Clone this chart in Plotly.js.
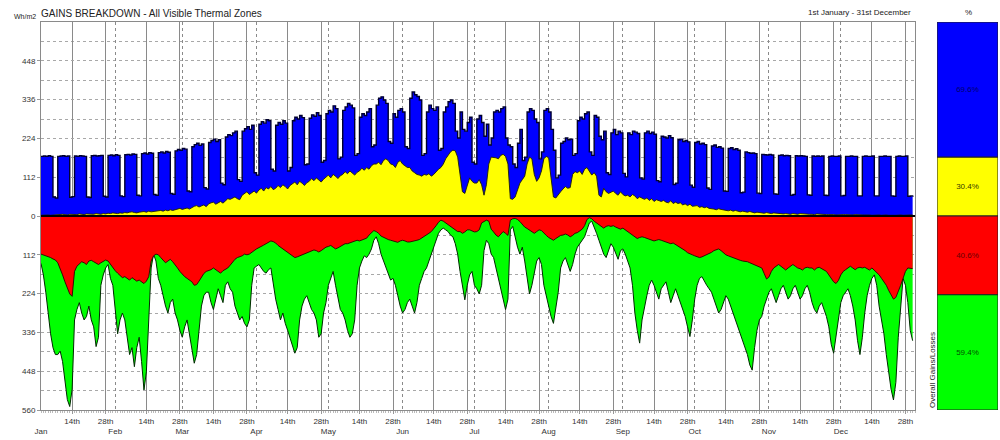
<!DOCTYPE html>
<html>
<head>
<meta charset="utf-8">
<script src="https://cdn.plot.ly/plotly-3.0.1.min.js"></script>
<style>html,body{margin:0;padding:0;background:#fff;}#chart{width:1000px;height:440px;}</style>
</head>
<body>
<div id="chart"></div>
<script>
// ---- DATA (daily values, Wh/m2) ----
const START_DATE = [2001, 0, 1];
const monthNames = ['Jan','Feb','Mar','Apr','May','Jun','Jul','Aug','Sep','Oct','Nov','Dec'];
const midTickDays = [14, 28];
const midTickText = ['14th', '28th'];

const totalGains = [
172,173,172,174,172,55,52, 172,173,174,172,173,54,56, 173,172,174,173,172,55,53, 174,175,173,174,175,57,55,
175,176,174,177,175,58,56, 177,178,176,179,178,60,58, 180,182,179,183,181,62,60, 183,185,182,186,184,65,63,
188,192,190,195,193,72,70, 200,206,210,204,208,82,78, 212,218,222,215,220,95,90, 228,235,232,240,245,105,100,
245,252,258,250,262,125,118, 265,272,268,278,275,135,130, 262,270,265,275,268,130,140, 275,285,280,290,284,148,150,
282,292,288,298,290,155,160, 295,305,300,318,310,165,170, 305,315,325,320,312,175,180, 285,295,290,300,310,200,205,
320,340,344,335,325,215,210, 295,285,305,310,300,200,195, 340,358,350,345,335,175,180, 300,320,310,305,315,190,195,
300,315,330,335,325,245,225, 300,250,245,270,285,155,150, 280,290,270,230,265,205,225, 300,305,300,310,315,225,205,
200,150,140,210,250,160,170, 300,310,305,280,270,165,185, 305,310,300,250,190,110,118, 210,215,225,220,222,175,180,
275,285,280,295,300,185,175, 290,285,230,220,245,125,120, 240,250,235,245,240,123,113, 240,235,245,242,238,110,107,
240,245,238,242,236,102,99, 230,228,225,232,226,91,95, 220,222,215,218,214,89,83, 212,215,208,210,206,81,77,
202,205,198,200,196,72,71, 195,197,192,194,190,67,69, 185,183,181,182,180,66,65, 178,177,176,178,176,64,63,
175,176,174,175,174,60,62, 174,173,174,173,172,61,60, 173,172,173,172,173,60,59, 172,173,172,172,173,58,59,
172,172,173,172,172,58,58, 172,173,172,172,173,58,58, 172,172,173,172,172,58,57, 172,173,172,172,173,57,58,
60];

const solarGains = [
2,3,4,3,2,3,4, 3,4,5,4,3,5,4, 5,4,6,5,4,6,5, 6,5,7,6,5,7,6,
8,7,9,8,7,9,8, 10,9,11,12,10,9,11, 12,13,11,14,12,13,15, 15,16,14,17,15,18,16,
18,20,22,19,21,23,20, 25,28,30,26,29,32,27, 35,38,40,34,39,42,37, 45,50,48,52,55,50,47,
60,65,70,62,68,72,66, 75,80,72,82,78,85,76, 80,88,82,90,85,78,88, 92,98,90,100,95,88,96,
100,108,102,110,105,98,106, 112,118,110,120,115,108,116, 120,128,122,130,125,118,126, 130,138,132,140,135,145,150,
150,155,148,160,165,160,150, 148,140,155,160,150,145,140, 140,130,125,120,118,115,120, 118,122,115,120,128,135,140,
150,165,175,185,190,188,170, 120,70,65,90,110,100,95, 95,105,90,60,90,150,170, 170,168,165,175,178,172,150,
50,48,55,75,95,105,115, 150,170,165,120,100,110,130, 165,172,168,110,55,52,62, 70,78,85,80,82,120,128,
125,130,120,135,140,128,118, 125,115,60,55,80,70,65, 68,72,65,60,70,62,58, 60,55,62,58,50,55,52,
48,52,45,50,42,47,44, 42,45,40,38,44,36,40, 36,38,32,35,30,34,28, 28,30,25,27,24,26,22,
22,20,18,21,19,17,16, 15,17,14,16,13,12,14, 12,11,13,10,9,11,10, 9,8,10,8,7,9,8,
7,8,6,7,6,5,7, 6,5,7,6,5,6,5, 5,4,6,5,4,5,4, 4,5,4,3,4,3,4,
4,3,4,3,4,3,3, 3,3,4,3,2,3,3, 3,2,3,3,2,3,2, 2,3,3,2,3,2,3,
3];

const fabricLosses = [
-110,-112,-115,-118,-120,-124,-127, -135,-150,-170,-190,-210,-225,-232, -160,-145,-138,-132,-135,-140,-130, -128,-132,-136,-140,-135,-130,-127,
-130,-140,-150,-158,-165,-172,-178, -175,-180,-185,-178,-182,-188,-185, -190,-195,-188,-175,-130,-115,-110, -112,-120,-128,-135,-130,-125,-132,
-140,-150,-160,-168,-175,-180,-186, -190,-200,-198,-188,-176,-166,-160, -158,-155,-150,-155,-160,-165,-158, -155,-150,-142,-132,-125,-120,-118,
-115,-110,-112,-110,-104,-100,-95, -92,-88,-84,-80,-76,-72,-74, -78,-85,-90,-96,-102,-106,-112, -116,-120,-118,-115,-112,-110,-108,
-104,-100,-98,-100,-104,-100,-95, -90,-88,-85,-90,-95,-92,-88, -85,-80,-80,-78,-75,-72,-70, -72,-70,-68,-64,-55,-48,-42,
-45,-50,-58,-62,-65,-68,-70, -72,-75,-76,-72,-70,-72,-75, -75,-74,-72,-70,-68,-64,-60, -55,-50,-45,-38,-28,-18,-12,
-15,-20,-26,-32,-36,-40,-45, -45,-50,-46,-40,-40,-44,-46, -45,-40,-20,-15,-12,-15,-38, -46,-55,-60,-52,-45,-50,-56,
-12,-8,-7,-10,-16,-25,-32, -36,-40,-46,-50,-45,-40,-42, -50,-56,-62,-66,-70,-65,-60, -56,-55,-52,-55,-60,-56,-50,
-48,-44,-38,-28,-10,-5,-8, -15,-20,-26,-30,-35,-30,-28, -30,-28,-32,-36,-38,-35,-40, -45,-50,-55,-60,-65,-62,-60,
-62,-65,-68,-70,-72,-70,-68, -70,-72,-76,-78,-80,-78,-82, -86,-90,-96,-100,-106,-110,-112, -115,-118,-120,-118,-115,-112,-110,
-105,-100,-98,-95,-100,-106,-112, -115,-118,-120,-122,-125,-128,-130, -130,-132,-135,-138,-140,-142,-146, -150,-166,-182,-176,-160,-150,-145,
-140,-145,-150,-156,-150,-145,-140, -145,-150,-152,-156,-150,-148,-150, -150,-156,-150,-148,-152,-156,-160, -170,-180,-190,-195,-186,-170,-160,
-155,-150,-145,-150,-155,-150,-148, -150,-148,-152,-156,-150,-156,-162, -170,-180,-190,-200,-215,-230,-240, -235,-220,-200,-180,-160,-150,-150,
-152];

const totalLosses = [
-137,-170,-220,-280,-340,-380,-400, -400,-390,-420,-480,-530,-550,-500, -300,-270,-250,-280,-300,-290,-260, -300,-320,-377,-350,-200,-170,-150,
-140,-180,-200,-280,-340,-300,-280, -300,-350,-400,-380,-435,-380,-350, -420,-502,-450,-300,-150,-110,-130, -180,-200,-230,-260,-280,-250,-240,
-280,-300,-330,-350,-320,-300,-340, -380,-425,-400,-330,-260,-230,-220, -220,-250,-270,-240,-210,-230,-250, -200,-190,-210,-220,-260,-280,-300,
-290,-310,-320,-300,-200,-150,-145, -140,-150,-160,-165,-155,-150,-200, -240,-270,-300,-280,-310,-330,-350, -370,-396,-380,-300,-260,-240,-230,
-250,-270,-280,-300,-350,-340,-280, -250,-200,-180,-160,-200,-240,-270, -280,-300,-330,-350,-340,-300,-200, -150,-130,-115,-120,-110,-95,-70,
-60,-80,-110,-130,-150,-170,-185, -180,-200,-230,-260,-280,-270,-250, -240,-260,-280,-250,-200,-180,-160, -150,-130,-110,-90,-70,-50,-40,
-35,-40,-45,-55,-60,-80,-110, -160,-200,-242,-200,-170,-160,-200, -210,-225,-200,-100,-70,-80,-110, -120,-150,-180,-210,-240,-270,-240,
-40,-30,-60,-90,-110,-90,-130, -180,-225,-200,-160,-130,-120,-140, -200,-230,-260,-290,-310,-270,-220, -150,-130,-120,-140,-160,-140,-110,
-90,-80,-70,-60,-40,-20,-15, -30,-50,-70,-90,-110,-120,-100, -80,-90,-110,-125,-100,-95,-110, -130,-150,-200,-280,-330,-367,-300,
-260,-230,-200,-185,-200,-220,-240, -210,-200,-190,-220,-250,-230,-210, -230,-250,-270,-290,-320,-348,-300, -240,-200,-180,-175,-190,-200,-210,
-220,-240,-260,-280,-270,-250,-230, -240,-260,-280,-300,-320,-340,-360, -380,-400,-430,-445,-380,-330,-300, -290,-260,-240,-220,-210,-230,-250,
-230,-210,-200,-220,-240,-230,-210, -200,-220,-240,-230,-210,-200,-220, -250,-270,-280,-260,-250,-270,-290, -320,-370,-396,-350,-300,-250,-230,
-220,-210,-230,-260,-300,-360,-400, -350,-280,-230,-200,-180,-170,-200, -260,-300,-340,-400,-450,-500,-531, -480,-350,-250,-180,-200,-250,-330,
-360];

// Overall percentage panel
const overallLabels = ['Solar gains', 'Other gains', 'Losses 1', 'Losses 2'];
const overallPct = [30.4, 69.6, -40.6, -59.4];
const overallText = ['30.4%', '69.6%', '40.6%', '59.4%'];

// Axis labels
const yTickVals = [-560, -448, -336, -224, -112, 0, 112, 224, 336, 448];
const yTickText = ['560', '448', '336', '224', '112', '0', '112', '224', '336', '448'];

// ---- BUILD ----
function isoDate(y, m, d) {
  const dt = new Date(Date.UTC(y, m, d));
  return dt.toISOString().slice(0, 10);
}
const dates = totalGains.map((_, i) => isoDate(START_DATE[0], START_DATE[1], START_DATE[2] + i));
const midTickVals = [], midTickLabels = [];
monthNames.forEach((m, mi) => {
  midTickDays.forEach((d, k) => { midTickVals.push(isoDate(2001, mi, d)); midTickLabels.push(midTickText[k]); });
});
const monthStarts = monthNames.map((m, mi) => isoDate(2001, mi, 1));

const FONT = 'Liberation Sans, Arial, sans-serif';
const xr = ['2001-01-01', '2002-01-01'];
const DOM = [0, 0.9133];

const traces = [
  {x: dates, y: totalGains, type: 'scatter', mode: 'lines', fill: 'tozeroy',
   fillcolor: '#0000ff', line: {color: '#00002e', width: 1.4, shape: 'hv'}, hoverinfo: 'skip'},
  {x: dates, y: solarGains, type: 'scatter', mode: 'lines', fill: 'tozeroy',
   fillcolor: '#ffff00', line: {color: '#1e1e00', width: 0.9}, hoverinfo: 'skip'},
  {x: dates, y: totalLosses, type: 'scatter', mode: 'lines', fill: 'tozeroy',
   fillcolor: '#00ff00', line: {color: '#002a00', width: 1}, hoverinfo: 'skip'},
  {x: dates, y: fabricLosses, type: 'scatter', mode: 'lines', fill: 'tozeroy',
   fillcolor: '#ff0000', line: {color: '#2a0000', width: 0.9}, hoverinfo: 'skip'},
  {x: [monthStarts[0]], y: [0], xaxis: 'x2', yaxis: 'y', type: 'scatter', mode: 'markers',
   marker: {opacity: 0}, hoverinfo: 'skip'}
];
const barColors = ['#ffff00', '#0000ff', '#ff0000', '#00ff00'];
const barTextColors = ['#3a3a00', '#00006a', '#6a0000', '#005000'];
overallPct.forEach((v, i) => {
  traces.push({x: [0], y: [v], type: 'bar', xaxis: 'x3', yaxis: 'y3', name: overallLabels[i],
    marker: {color: barColors[i], line: {color: '#222', width: 1}},
    text: [overallText[i]], textposition: 'inside', insidetextanchor: 'middle',
    textfont: {size: 8, color: barTextColors[i], family: FONT}, hoverinfo: 'skip', width: 1});
});

const layout = {
  width: 1000, height: 440, autosize: false,
  margin: {l: 41, r: 2, t: 22, b: 30},
  paper_bgcolor: '#fff', plot_bgcolor: '#fff',
  showlegend: false, barmode: 'relative', bargap: 0,
  font: {family: FONT, size: 8, color: '#222'},
  title: {text: 'GAINS BREAKDOWN - All Visible Thermal Zones', x: 0.041, xanchor: 'left',
          y: 0.97, yanchor: 'middle', font: {size: 10, color: '#222', family: FONT}},
  xaxis: {type: 'date', domain: DOM, range: xr, tickvals: midTickVals, ticktext: midTickLabels,
          showgrid: true, gridcolor: '#8a8a8a', gridwidth: 1, ticks: 'outside', ticklen: 3, tickcolor: '#999',
          tickfont: {size: 8, color: '#333'}, showline: true, mirror: true, linecolor: '#8a8a8a',
          zeroline: false, layer: 'above traces', fixedrange: true,
          minor: {ticks: 'outside', ticklen: 2, dtick: 86400000, tickcolor: '#bbb'}},
  xaxis2: {type: 'date', domain: DOM, range: xr, overlaying: 'x', anchor: 'y', side: 'bottom',
           tickvals: monthStarts, ticktext: monthNames, showgrid: true, gridcolor: '#8a8a8a', griddash: 'dot',
           ticks: '', ticklabelstandoff: 15, tickfont: {size: 8, color: '#333'}, showline: false,
           zeroline: false, layer: 'above traces', fixedrange: true},
  yaxis: {domain: [0, 1], range: [-560, 560], tickvals: yTickVals, ticktext: yTickText,
          showgrid: true, gridcolor: '#a8a8a8', griddash: 'dot', ticks: 'outside', ticklen: 3, tickcolor: '#999',
          tickfont: {size: 8, color: '#333'}, showline: true, mirror: true, linecolor: '#8a8a8a',
          zeroline: false, fixedrange: true,
          minor: {tick0: 0, dtick: 56, showgrid: true, gridcolor: '#a8a8a8', griddash: 'dot'}},
  xaxis3: {domain: [0.9363, 1], anchor: 'y3', range: [-0.5, 0.5], visible: false, fixedrange: true},
  yaxis3: {domain: [0, 1], anchor: 'x3', range: [-100, 100], visible: false, fixedrange: true},
  shapes: [
    {type: 'line', xref: 'x domain', yref: 'y', x0: 0, x1: 1, y0: 0, y1: 0,
     line: {color: '#000', width: 2}, layer: 'above'}
  ],
  annotations: [
    {text: '1st January - 31st December', xref: 'paper', yref: 'paper', x: 0.9115, y: 1.0232,
     xanchor: 'right', yanchor: 'middle', showarrow: false, font: {size: 8, color: '#222'}},
    {text: '%', xref: 'paper', yref: 'paper', x: 0.9687, y: 1.0232,
     xanchor: 'center', yanchor: 'middle', showarrow: false, font: {size: 8, color: '#222'}},
    {text: 'Wh/m2', xref: 'paper', yref: 'paper', x: -0.003, y: 1.013,
     xanchor: 'right', yanchor: 'middle', showarrow: false, font: {size: 7, color: '#222'}},
    {text: 'Overall Gains/Losses', xref: 'paper', yref: 'paper', x: 0.931, y: 0,
     xanchor: 'center', yanchor: 'bottom', textangle: -90, showarrow: false, font: {size: 8, color: '#222'}}
  ]
};

Plotly.newPlot('chart', traces, layout, {staticPlot: true, displayModeBar: false});
</script>
</body>
</html>
